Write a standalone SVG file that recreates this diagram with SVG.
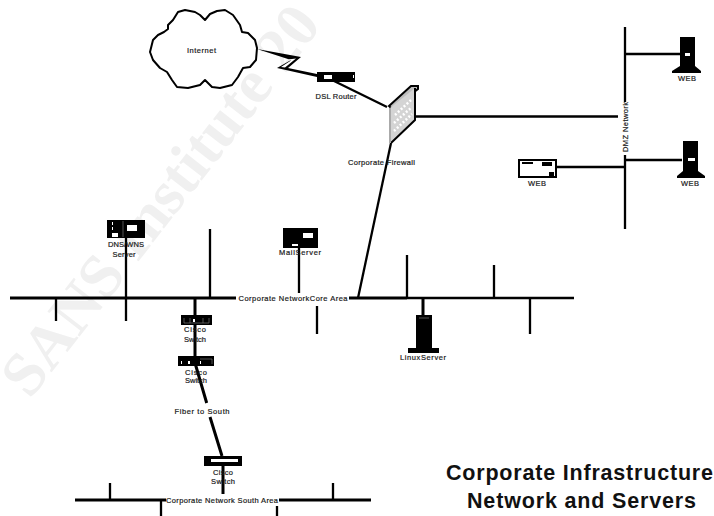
<svg xmlns="http://www.w3.org/2000/svg" width="714" height="516" viewBox="0 0 714 516">
<style>
text{font-family:"Liberation Sans",Arial,sans-serif;font-size:7.500px;fill:#1a1a1a;text-anchor:middle;stroke:#1a1a1a;stroke-width:.2}
.t{font-size:21.500px;font-weight:bold;stroke:none;fill:#111}
.wm{font-family:"Liberation Serif","Times New Roman",serif;font-size:62px;font-weight:bold;fill:#f0f0f0;stroke:none;text-anchor:start}
.b{stroke:#000;stroke-width:3;fill:none}
.m{stroke:#000;stroke-width:2.300;fill:none}
.k{fill:#000}
.w{fill:#fff}
.g{stroke:#777;stroke-width:.7;fill:none}
</style>
<rect width="714" height="516" fill="#fff"/>
<text class="wm" transform="translate(30 400) rotate(-52)">SANS Institute 20</text>
<g id="connectors">
<path class="m" d="M332 80L387 107M415 116.500H618M625 27V102M625 155V229M625 54H680M625 160H682M556 167H625"/>
<path class="m" d="M391 143L358 298"/>
<path class="b" d="M10 298H236M349 298H407"/>
<path class="m" d="M407 298H574"/>
<path class="m" d="M56 298V321M126 238V321M210 298V229M299 238V293M317 306V334M407 255V298M494 265V298M530 298V334"/>
<path class="b" d="M195 298V363L206.700 403M210 417L222 456M423 298V315M223 466V494"/>
<path class="b" d="M75 500H166M279 500H371"/>
<path class="m" d="M110 483V500M161 500V516M277 506V516M333 483V500"/>
</g>
<g id="internet">
<path d="M151 48L153 40L158 35L164 32L168 29L168 25L173 20L178 12L185 10L195 12L200 15L205 20L210 14L217 11L225 10L233 15L240 25L242 32L248 33L255 40L257 48L256 60L250 67L243 68L238 77L232 85L220 88L212 87L205 80L200 85L188 88L177 87L172 80L167 72L160 68L153 60L150 52Z" fill="#fff" stroke="#000" stroke-width="2" stroke-linejoin="round"/>
<text x="201.500" y="53" textLength="29" lengthAdjust="spacing">Internet</text>
</g>
<g id="zigzag">
<path d="M257 49L301 57L288 68L317 74V77L277 68L291 60Z" fill="#000"/>
<path d="M296 58.500L285 67.500L281 67L291 60.500L288 59.500Z" fill="#fff"/>
</g>
<g id="dsl-router">
<rect class="k" x="317" y="72" width="38" height="10"/>
<rect class="w" x="324" y="75" width="8" height="4"/>
<rect class="w" x="353" y="75" width="1" height="3"/>
<text x="336" y="99" textLength="41" lengthAdjust="spacing">DSL Router</text>
</g>
<g id="firewall">
<path d="M389 106L411 86H418V89L392 109Z" fill="#bdbdbd" stroke="#000" stroke-width="2"/>
<path d="M390 108L415 88V120L391 142Z" fill="#d4d4d4"/>
<path d="M415 88V120L391 143" fill="none" stroke="#000" stroke-width="2"/>
<path d="M395 115L411 100M394 123L412 107M394 131L412 114" stroke="#fff" stroke-width="2.500" stroke-dasharray="2 2" fill="none"/>
<path d="M390 108V143" stroke="#aaa" stroke-width="2"/>
<text x="381.500" y="165" textLength="67" lengthAdjust="spacing">Corporate Firewall</text>
</g>
<g id="dmz-network"><text transform="translate(628 127) rotate(-90)" textLength="50" lengthAdjust="spacing">DMZ Network</text></g>
<g id="web1">
<rect class="k" x="680" y="37" width="15" height="31"/>
<rect class="w" x="685" y="53" width="5" height="3"/>
<path class="k" d="M680 66H695L701 71V73H672V71Z"/>
<text x="687" y="81" textLength="18" lengthAdjust="spacing">WEB</text>
</g>
<g id="web2">
<rect class="k" x="683" y="141" width="15" height="32"/>
<rect class="w" x="688" y="158" width="7" height="3"/>
<path class="k" d="M683 171H698L705 176V178H677V176Z"/>
<text x="690" y="186" textLength="18" lengthAdjust="spacing">WEB</text>
</g>
<g id="web3">
<rect x="519" y="160" width="37" height="17" fill="#fff" stroke="#000" stroke-width="2"/>
<rect class="k" x="522" y="162" width="11" height="2"/>
<rect class="k" x="542" y="162" width="10" height="4"/>
<rect class="k" x="549" y="172" width="5" height="5"/>
<text x="537" y="186" textLength="18" lengthAdjust="spacing">WEB</text>
</g>
<g id="dns-server">
<rect class="k" x="107" y="220" width="38" height="18"/>
<rect class="w" x="127" y="225" width="10" height="6"/>
<rect class="w" x="112" y="233" width="6" height="4"/>
<rect class="w" x="112" y="222" width="1" height="3"/>
<rect class="w" x="112" y="227" width="1" height="3"/>
<path class="g" d="M123 221V237"/>
<text x="126" y="247" textLength="36" lengthAdjust="spacing">DNS/WNS</text>
<text x="124" y="257" textLength="23" lengthAdjust="spacing">Server</text>
</g>
<g id="mail-server">
<rect class="k" x="283" y="228" width="35" height="20"/>
<rect class="w" x="303" y="233" width="10" height="5"/>
<rect class="w" x="292" y="244" width="6" height="2"/>
<text x="300" y="255" textLength="42" lengthAdjust="spacing">MailServer</text>
</g>
<g id="core-label"><text x="293" y="301" textLength="109" lengthAdjust="spacing">Corporate NetworkCore Area</text></g>
<g id="linux-server">
<rect class="k" x="416" y="315" width="16" height="33"/>
<rect class="k" x="408" y="348" width="31" height="5"/>
<path class="g" d="M419 318H429"/>
<text x="423" y="360" textLength="46" lengthAdjust="spacing">LinuxServer</text>
</g>
<g id="switch1">
<rect class="k" x="181" y="315" width="31" height="10"/>
<path class="g" d="M184 318V323H209V318M190 318V323M203 318V323"/>
<rect class="w" x="193" y="319" width="2" height="3"/>
<text x="195" y="332" textLength="22" lengthAdjust="spacing">Cisco</text>
<text x="195" y="342" textLength="22" lengthAdjust="spacing">Switch</text>
</g>
<g id="switch2">
<rect class="k" x="178" y="356" width="36" height="10"/>
<path class="g" d="M200 359H212V364"/>
<rect class="w" x="181" y="361" width="1" height="3"/>
<rect class="w" x="188" y="361" width="2" height="3"/>
<rect class="w" x="200" y="361" width="1" height="3"/>
<text x="196" y="375" textLength="22" lengthAdjust="spacing">Cisco</text>
<text x="196" y="383" textLength="22" lengthAdjust="spacing">Switch</text>
</g>
<g id="fiber-label"><text x="202" y="414" textLength="55" lengthAdjust="spacing">Fiber to South</text></g>
<g id="switch3">
<rect class="k" x="204" y="456" width="38" height="10"/>
<rect class="w" x="211" y="459" width="27" height="3"/>
<text x="223" y="475" textLength="20" lengthAdjust="spacing">Cisco</text>
<text x="223" y="484" textLength="24" lengthAdjust="spacing">Switch</text>
</g>
<g id="south-label"><text x="222" y="503" textLength="112" lengthAdjust="spacing">Corporate Network South Area</text></g>
<g id="title">
<text class="t" x="579.500" y="480" textLength="267" lengthAdjust="spacing">Corporate Infrastructure</text>
<text class="t" x="581.500" y="508" textLength="229" lengthAdjust="spacing">Network and Servers</text>
</g>
</svg>
